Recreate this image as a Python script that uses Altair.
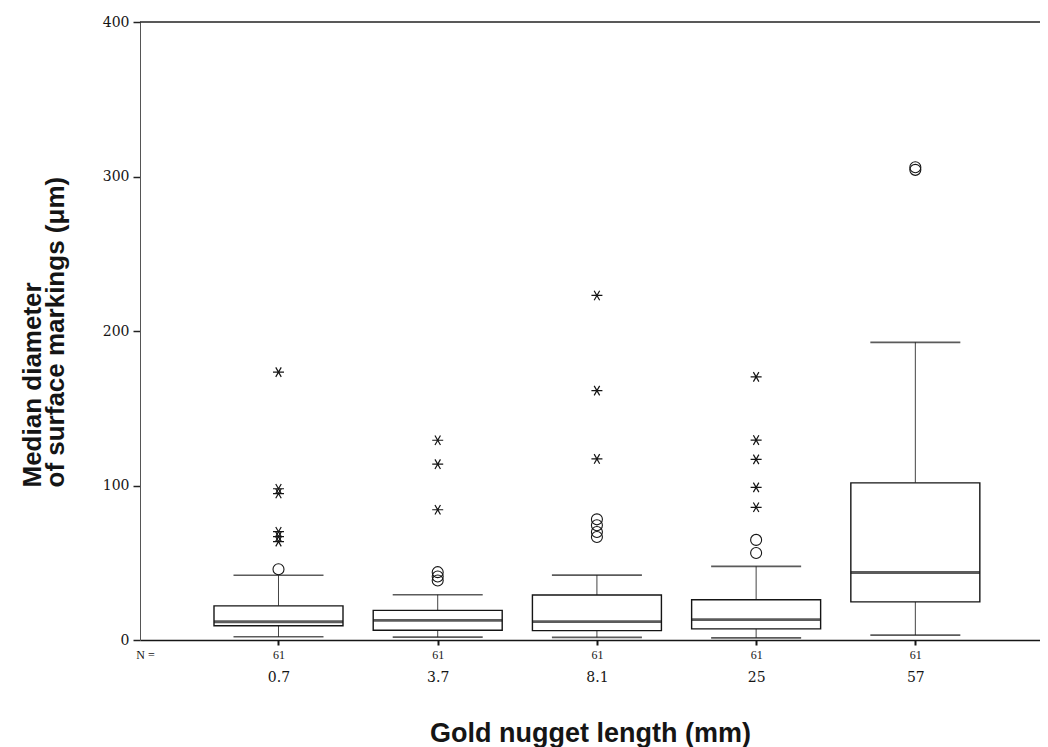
import altair as alt
import pandas as pd

# ---- data ----
categories = ["0.7", "3.7", "8.1", "25", "57"]
n_counts = [61, 61, 61, 61, 61]
whisker_low = [2.1, 1.9, 1.7, 1.4, 3.2]
quartile_1 = [9.2, 6.3, 6.1, 7.2, 24.7]
medians = [11.8, 12.7, 11.9, 13.2, 43.7]
quartile_3 = [22.1, 19.2, 29.1, 26.1, 101.7]
whisker_high = [41.9, 29.3, 42.0, 47.7, 192.7]
outliers = [[45.8], [43.9, 41.1, 38.5], [78.1, 74.3, 69.9, 66.7], [64.8, 56.3], [306.0, 304.3]]
extremes = [[173.4, 97.9, 94.8, 70.1, 66.9, 63.7],
            [129.3, 113.8, 84.3],
            [223.0, 161.4, 117.2],
            [170.3, 129.4, 116.9, 98.8, 85.9],
            []]
y_ticks = [0, 100, 200, 300, 400]
y_top = [400]

positions = list(range(1, len(categories) + 1))
box_df = pd.DataFrame({
    "pos": positions, "category": categories, "n": n_counts,
    "lo": whisker_low, "q1": quartile_1, "med": medians,
    "q3": quartile_3, "hi": whisker_high,
})
circ_df = pd.DataFrame([{"pos": p, "value": v} for p, vals in zip(positions, outliers) for v in vals])
star_df = pd.DataFrame([{"pos": p, "value": v} for p, vals in zip(positions, extremes) for v in vals])
top_df = pd.DataFrame({"v": y_top, "pos": [positions[0]]})

INK = "#151515"
X_MIN, X_MAX = 0.1615, 5.7516
xscale = alt.Scale(domain=[X_MIN, X_MAX], nice=False, zero=False)
yscale = alt.Scale(domain=[0, 400], nice=False)

cat_expr = "[" + ",".join("'%s'" % c for c in categories) + "][round(datum.value) - 1]"
n_expr = "datum.value < 0.5 ? 'N =' : [" + ",".join("'%d'" % n for n in n_counts) + "][round(datum.value) - 1]"

y_axis = alt.Axis(
    orient="left", values=y_ticks, grid=False, labelFont="DejaVu Serif", labelFontSize=14,
    labelColor=INK, tickSize=7, tickColor="#222", tickWidth=1.5,
    domainColor="#555", domainWidth=1, labelPadding=4,
    title=["Median diameter", "of surface markings (μm)"],
    titleFont="Liberation Sans", titleFontSize=26, titleFontWeight="bold",
    titleColor=INK, titleAngle=270, titleAlign="left", titleBaseline="alphabetic",
    titleX=-100, titleY=465, titleLineHeight=23,
)
n_axis = alt.Axis(
    orient="bottom", values=[X_MIN] + positions, labelExpr=n_expr, grid=False,
    labelFont="Liberation Serif", labelFontSize=12, labelColor=INK,
    labelFlush=False, labelOverlap=False, tickSize=5, tickWidth=2,
    tickColor={"condition": {"test": "datum.value < 0.5", "value": "transparent"}, "value": INK},
    domainColor=INK, domainWidth=1.5, labelPadding=4, title=None,
)
cat_axis = alt.Axis(
    orient="bottom", values=positions, labelExpr=cat_expr, grid=False,
    labelFont="DejaVu Serif", labelFontSize=14, labelColor=INK,
    labelFlush=False, labelOverlap=False, ticks=False, domain=False, labelPadding=30,
    title="Gold nugget length (mm)", titleFont="Liberation Sans", titleFontSize=27,
    titleFontWeight="bold", titleColor=INK, titleBaseline="alphabetic", titleY=101,
)


def Y(field):
    # identical y axis spec on every layer so the shared axis merges cleanly
    return alt.Y(field, scale=yscale, axis=y_axis)


def X(axis=None):
    return alt.X("pos:Q", scale=xscale, axis=axis)


top_rule = alt.Chart(top_df).mark_rule(color="#222", strokeWidth=1.3).encode(y=Y("v:Q"))
n_layer = alt.Chart(box_df).mark_tick(opacity=0).encode(x=X(n_axis), y=Y("lo:Q"))
base = alt.Chart(box_df)
whisker_up = base.mark_rule(color="#444", strokeWidth=1).encode(x=X(), y=Y("q3:Q"), y2="hi:Q")
whisker_down = base.mark_rule(color="#444", strokeWidth=1).encode(x=X(), y=Y("lo:Q"), y2="q1:Q")
box = base.mark_bar(size=129, fill="white", stroke=INK, strokeWidth=1.4).encode(
    x=X(), y=Y("q1:Q"), y2="q3:Q")
median = base.mark_tick(orient="horizontal", size=129, thickness=2.8, color=INK).encode(
    x=X(cat_axis), y=Y("med:Q"))
cap_lo = base.mark_tick(orient="horizontal", size=90, thickness=1.7, color=INK).encode(
    x=X(), y=Y("lo:Q"))
cap_hi = base.mark_tick(orient="horizontal", size=90, thickness=1.7, color=INK).encode(
    x=X(), y=Y("hi:Q"))
circles = alt.Chart(circ_df).mark_point(shape="circle", size=121, filled=False,
                                        strokeWidth=1.1, color=INK, opacity=1).encode(
    x=X(), y=Y("value:Q"))
STAR = "M-1,0L1,0M-0.5,-0.866L0.5,0.866M-0.5,0.866L0.5,-0.866"
stars = alt.Chart(star_df).mark_point(shape=STAR, size=121, filled=False,
                                      strokeWidth=1.2, color=INK, opacity=1).encode(
    x=X(), y=Y("value:Q"))

chart = alt.layer(
    top_rule, n_layer, whisker_up, whisker_down, box, median, cap_lo, cap_hi, circles, stars
).resolve_axis(x="independent").properties(
    width=900, height=618,
    padding={"left": 132, "top": 14, "right": 0, "bottom": 107},
    autosize=alt.AutoSizeParams(type="none"),
    background="white",
).configure_view(strokeWidth=0)

chart.save("out.html", embed_options={"renderer": "svg", "actions": False})
